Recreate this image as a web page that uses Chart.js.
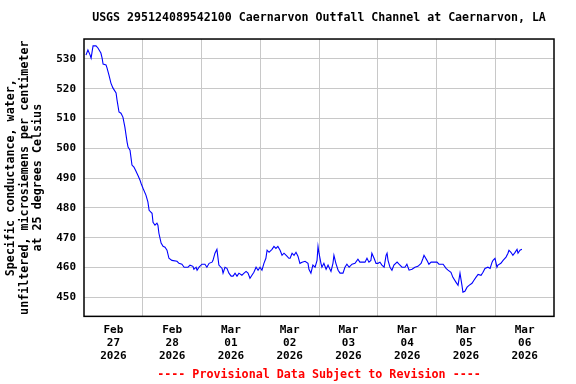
<!DOCTYPE html>
<html><head><meta charset="utf-8">
<script src="https://cdn.jsdelivr.net/npm/chart.js@4"></script>
<style>html,body{margin:0;padding:0;background:#fff}#wrap{width:576px;height:384px}</style>
</head><body><div id="wrap"><canvas id="c" width="576" height="384"></canvas></div>
<script>
// hours since 2026-02-27 00:00
const hours = [0.8,1.6,2.5,2.9,3.3,3.7,4.9,5.7,6.9,7.4,7.8,9.0,9.4,10.2,11.0,11.8,13.1,13.5,14.3,15.1,15.9,16.7,17.6,18.0,18.8,19.6,20.4,21.2,22.1,22.9,23.3,24.1,25.3,26.1,26.6,27.8,28.2,29.0,29.8,30.2,30.6,31.5,32.3,33.1,33.9,34.7,35.9,38.0,38.8,40.0,40.9,42.5,43.3,44.5,44.9,45.8,46.2,47.0,48.2,49.4,50.2,51.1,52.3,52.7,53.5,54.3,54.7,55.1,56.4,56.8,57.6,58.4,59.2,60.1,60.9,61.7,62.5,63.3,64.5,65.4,66.2,67.0,67.8,68.6,69.4,70.3,71.1,71.9,72.7,73.5,74.3,74.8,75.6,76.8,77.6,78.4,79.2,80.1,80.9,81.7,82.9,83.7,84.2,85.0,85.8,86.6,87.4,88.2,89.1,90.3,91.5,91.9,92.7,93.5,94.4,95.2,95.6,96.0,96.8,97.2,98.0,98.9,99.7,100.1,100.9,101.7,102.1,102.9,103.8,104.6,105.8,106.6,107.4,108.3,109.5,110.7,111.9,112.7,114.8,115.6,116.4,117.2,117.6,118.5,119.3,120.1,120.9,121.7,122.6,123.4,123.8,124.2,125.0,125.8,126.6,127.9,128.7,129.9,131.1,131.9,132.8,134.0,135.2,136.4,137.7,138.5,138.9,140.1,140.9,141.8,143.4,144.2,145.0,146.7,147.9,148.7,149.9,150.7,152.0,152.8,153.6,154.4,154.8,155.6,156.5,157.3,158.5,159.3,160.1,161.0,162.2,163.0,163.8,165.0,165.9,166.7,167.1,167.9,168.7,169.1,170.3,171.2,172.4,173.2,173.6,174.4,175.2,176.1,176.9,177.3,178.1,178.9];
const conductance = [531.3,533.0,531.3,530.3,532.4,534.4,534.4,533.7,532.0,530.3,528.3,528.0,527.0,524.6,521.9,520.3,518.6,516.2,512.2,511.8,510.5,507.1,502.1,500.4,499.4,494.4,493.7,492.4,490.8,489.3,488.3,486.6,484.3,482.0,479.2,478.2,475.2,474.2,474.9,474.2,471.5,468.2,467.1,466.8,465.8,463.1,462.4,462.1,461.4,461.1,460.1,460.1,460.8,460.4,459.4,460.1,459.1,460.1,461.1,461.1,460.1,461.4,461.8,462.4,464.8,466.1,463.5,460.8,459.7,458.1,460.1,459.7,458.1,457.1,457.1,458.1,457.1,458.1,457.4,458.1,458.7,458.1,456.4,457.4,458.4,460.1,459.1,460.1,459.1,461.4,463.1,465.8,465.1,466.1,467.1,466.4,467.1,465.8,464.1,464.8,463.8,463.1,463.1,464.8,464.1,465.1,463.8,461.4,461.8,462.1,461.4,459.4,458.1,460.8,460.1,462.4,467.1,464.8,461.4,460.1,461.4,459.4,460.8,460.1,458.7,461.4,464.1,461.4,459.1,458.1,458.1,460.1,461.1,460.1,461.1,461.4,462.8,461.8,461.8,463.1,461.8,462.4,464.8,463.1,461.4,461.4,461.8,460.8,460.1,464.1,464.8,462.4,460.1,459.1,460.8,461.8,461.1,460.1,460.1,461.1,459.1,459.4,460.1,460.4,461.4,463.1,464.1,462.4,461.1,461.8,461.8,461.8,461.1,461.1,459.7,459.1,458.4,456.7,455.0,454.0,458.1,454.0,451.7,452.0,453.4,454.0,454.7,455.7,456.7,457.7,457.4,458.4,459.7,460.1,459.7,461.8,462.4,463.1,460.1,460.8,461.4,462.4,463.5,464.8,465.8,465.1,464.1,465.1,466.1,464.8,465.8,466.1];

const dayTicks = [12,36,60,84,108,132,156,180];
const tickMonth = ['Feb','Feb','Mar','Mar','Mar','Mar','Mar','Mar'];
const tickDay = ['27','28','01','02','03','04','05','06'];
const tickYear = '2026';
const midnightTicks = [24,48,72,96,120,144,168];
const yTicks = [450,460,470,480,490,500,510,520,530];

const FONT = 'DejaVu Sans Mono';

const framePlugin = {
  id: 'frame',
  afterDraw(chart) {
    const {ctx, chartArea: a} = chart;
    ctx.save();
    ctx.strokeStyle = '#000';
    ctx.lineWidth = 1.5;
    ctx.strokeRect(a.left, a.top, a.right - a.left, a.bottom - a.top);
    ctx.restore();
  }
};

new Chart(document.getElementById('c'), {
  type: 'line',
  data: {
    datasets: [{
      data: hours.map((h, i) => ({x: h, y: conductance[i]})),
      borderColor: '#0000ff',
      borderWidth: 1.1,
      pointRadius: 0,
      tension: 0,
      fill: false
    }]
  },
  options: {
    responsive: false,
    animation: false,
    layout: {padding: {left: 0, right: 22, top: 0, bottom: 1.6}},
    plugins: {
      legend: {display: false},
      tooltip: {enabled: false},
      title: {
        display: true,
        text: 'USGS 295124089542100 Caernarvon Outfall Channel at Caernarvon, LA',
        color: '#000',
        font: {family: FONT, size: 11.6, weight: 'bold', lineHeight: 1.2},
        padding: {top: 11.5, bottom: 13.6},
        fullSize: false
      },
      subtitle: {
        display: true,
        position: 'bottom',
        text: '---- Provisional Data Subject to Revision ----',
        color: '#ff0000',
        font: {family: FONT, size: 11.7, weight: 'bold', lineHeight: 1.2},
        padding: {top: 2, bottom: 0},
        fullSize: false
      }
    },
    scales: {
      x: {
        type: 'linear',
        min: 0,
        max: 192,
        afterBuildTicks: (s) => {
          const t = [];
          for (let v = 0; v <= 192; v += 12) t.push({value: v});
          s.ticks = t;
        },
        afterFit: (s) => { s.height = 50; },
        border: {display: false},
        grid: {
          drawTicks: false,
          lineWidth: 1,
          color: (c) => (c.tick && midnightTicks.includes(c.tick.value)) ? '#c8c8c8' : 'rgba(0,0,0,0)'
        },
        ticks: {
          autoSkip: false,
          maxRotation: 0,
          minRotation: 0,
          padding: 7,
          color: '#000',
          font: {family: FONT, size: 11, weight: 'bold', lineHeight: 1.2},
          callback: (v) => {
            const i = dayTicks.indexOf(v);
            return i >= 0 ? [tickMonth[i], tickDay[i], tickYear] : '';
          }
        }
      },
      y: {
        min: 443.6,
        max: 536.7,
        afterBuildTicks: (s) => { s.ticks = yTicks.map(v => ({value: v})); },
        afterFit: (s) => { s.width = 84; },
        border: {display: false},
        grid: {drawTicks: false, lineWidth: 1, color: '#c8c8c8'},
        ticks: {
          padding: 8,
          color: '#000',
          font: {family: FONT, size: 11, weight: 'bold'}
        },
        title: {
          display: true,
          text: ['Specific conductance, water,', 'unfiltered, microsiemens per centimeter', 'at 25 degrees Celsius'],
          color: '#000',
          font: {family: FONT, size: 11.7, weight: 'bold', lineHeight: 13.5 / 11.7},
          padding: {top: 4.25, bottom: 0}
        }
      }
    }
  },
  plugins: [framePlugin]
});
</script>
</body></html>
